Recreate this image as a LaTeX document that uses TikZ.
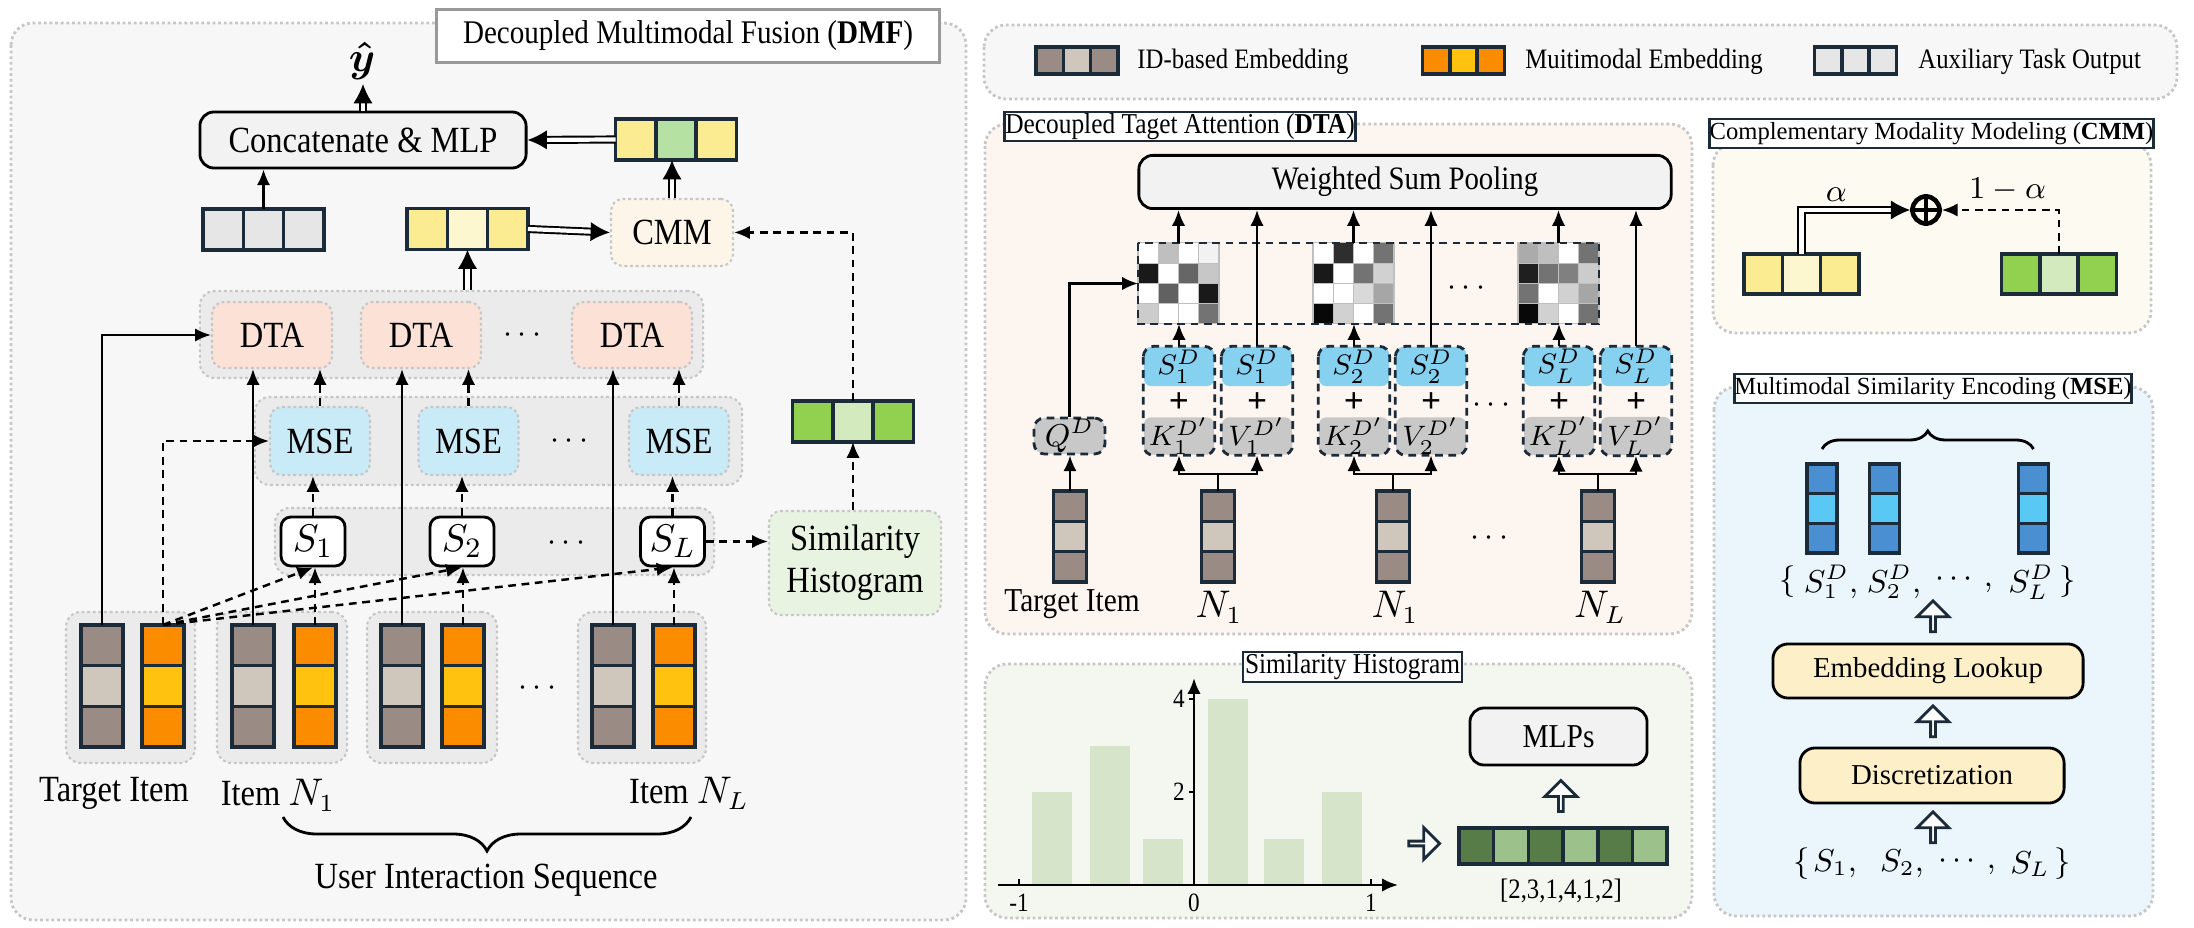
\documentclass[tikz,border=0pt]{standalone}
\usepackage{amsmath}
\usepackage{fontspec}
\setmainfont{Liberation Serif}
\newfontfamily\condfont[FakeStretch=0.88]{Liberation Serif}
\usetikzlibrary{arrows.meta,shapes.arrows,calc,decorations.pathreplacing}

\definecolor{navy}{HTML}{1C2B3A}
\definecolor{idDark}{HTML}{9A8C84}
\definecolor{idLight}{HTML}{CFC7BB}
\definecolor{mmOrange}{HTML}{FB8C00}
\definecolor{mmYellow}{HTML}{FFC20E}
\definecolor{auxGray}{HTML}{E6E6E6}
\definecolor{cmmYellow}{HTML}{FCEC91}
\definecolor{cmmLight}{HTML}{FDF7D0}
\definecolor{midGreen}{HTML}{B5E2A3}
\definecolor{simGreen}{HTML}{92D050}
\definecolor{simLight}{HTML}{D3EABF}
\definecolor{panelGray}{HTML}{F7F7F7}
\definecolor{groupGray}{HTML}{EBEBEB}
\definecolor{dtaFill}{HTML}{FBE1D6}
\definecolor{mseFill}{HTML}{C9EAF7}
\definecolor{cmmFill}{HTML}{FDF6E8}
\definecolor{shFill}{HTML}{E9F3E1}
\definecolor{dtaPanel}{HTML}{FDF5F0}
\definecolor{cmmPanel}{HTML}{FDFAF2}
\definecolor{msePanel}{HTML}{EAF5FC}
\definecolor{shPanel}{HTML}{F4F7EF}
\definecolor{skyCell}{HTML}{86D0F0}
\definecolor{kvGray}{HTML}{C8C8C8}
\definecolor{encDark}{HTML}{4A8FD2}
\definecolor{encLight}{HTML}{5AC8F5}
\definecolor{barGreen}{HTML}{D6E4C9}
\definecolor{histDark}{HTML}{587C47}
\definecolor{histLight}{HTML}{9DC18A}
\definecolor{boxGray}{HTML}{F2F2F2}
\definecolor{lookupFill}{HTML}{FDF0C8}

%%% three cells side by side / on top of each other
\newcommand{\HVec}[6][]{%
  \node[CellStyle,#1,fill=#5] (#2) at (#3) {};
  \node[CellStyle,#1,fill=#4,anchor=east] (#2-l) at (#2.west) {};
  \node[CellStyle,#1,fill=#6,anchor=west] (#2-r) at (#2.east) {};
}
\newcommand{\VVec}[6][]{%
  \node[CellStyle,#1,fill=#5] (#2) at (#3) {};
  \node[CellStyle,#1,fill=#4,anchor=south] (#2-t) at (#2.north) {};
  \node[CellStyle,#1,fill=#6,anchor=north] (#2-b) at (#2.south) {};
}
%%% one key or value column of the DTA block
\newcommand{\DTAcol}[4]{%
  \node[SCellStyle] (#1-s) at (#2,366.5) {#3};
  \node[KCellStyle] (#1-k) at (#2,436) {#4};
  \node[PlusStyle] (#1-p) at (#2,403) {+};
  \draw[ColStyle] (#1-s.north west) rectangle (#1-k.south east);
}
%%% 4x4 attention map
\newcommand{\HeatMap}[3]{%
  \node[inner sep=0pt, outer sep=0pt, minimum size=0.81cm] (#1) at (#2) {};
  \foreach \hmv [count=\hmk from 0] in {#3} {
    \pgfmathtruncatemacro\hmrow{\hmk/4}
    \pgfmathtruncatemacro\hmcol{\hmk-4*\hmrow}
    \filldraw[fill=black!\hmv, draw=black!25, line width=0.3pt]
      ($(#1.north west)+(\hmcol*20.25,\hmrow*20.25)$) rectangle ++(20.25,20.25);
  }
}

\begin{document}
\begin{tikzpicture}[x=0.01cm,y=-0.01cm]

\tikzset{
  PanelStyle/.style = {draw=black!22, line width=0.8pt, dash pattern=on 0.8pt off 0.8pt, rounded corners=0.22cm},
  GroupStyle/.style = {fill=groupGray, draw=black!22, line width=0.6pt, dash pattern=on 0.8pt off 0.8pt, rounded corners=0.15cm},
  TitleStyle/.style = {draw=navy, line width=0.8pt, fill=white, inner sep=0pt},
  CellStyle/.style  = {draw=navy, line width=1pt, outer sep=0pt, inner sep=0pt},
  BoxStyle/.style   = {draw=black, line width=0.8pt, fill=boxGray, rounded corners=0.14cm},
  SoftBox/.style    = {draw=black!22, line width=0.6pt, dash pattern=on 0.8pt off 0.8pt, rounded corners=0.12cm,
                       font=\condfont\fontsize{10.5}{12}\selectfont},
  SNode/.style      = {draw=black, line width=0.8pt, fill=white, rounded corners=0.1cm,
                       minimum width=0.64cm, minimum height=0.49cm, inner sep=0pt, font=\fontsize{11}{12}\selectfont},
  CondText/.style   = {font=\condfont\fontsize{10.5}{12}\selectfont},
  LegText/.style    = {anchor=west, font=\condfont\fontsize{8}{10}\selectfont},
  DotsStyle/.style  = {font=\fontsize{9}{10}\selectfont},
  SCellStyle/.style = {fill=skyCell, rounded corners=2pt, minimum width=0.70cm, minimum height=0.39cm,
                       inner sep=0pt, font=\fontsize{8.5}{10}\selectfont},
  KCellStyle/.style = {fill=kvGray, rounded corners=2pt, minimum width=0.70cm, minimum height=0.37cm,
                       inner sep=0pt, font=\fontsize{8.5}{10}\selectfont},
  PlusStyle/.style  = {inner sep=0pt, font=\bfseries\fontsize{10}{12}\selectfont},
  ColStyle/.style   = {draw=navy, line width=0.8pt, dash pattern=on 2.2pt off 1.6pt, rounded corners=3pt},
  BarSize/.style    = {minimum width=0.42cm, minimum height=0.407cm},
  LegSize/.style    = {minimum width=0.273cm, minimum height=0.27cm},
  VecSize/.style    = {minimum width=0.403cm, minimum height=0.41cm},
  CmmSize/.style    = {minimum width=0.383cm, minimum height=0.40cm},
  DtaBar/.style     = {minimum width=0.33cm, minimum height=0.303cm},
  EncBar/.style     = {minimum width=0.30cm, minimum height=0.297cm},
  ArrowStyle/.style = {line width=0.7pt, -{Latex[length=4.5pt,width=3.8pt]}},
  DashArrow/.style  = {ArrowStyle, dash pattern=on 2.2pt off 1.6pt},
  DoubleArrow/.style= {double, double distance=1.2pt, line width=0.55pt, -{Latex[length=5.5pt,width=5.5pt]}},
  HollowArrow/.style= {single arrow, draw=navy, fill=white, line width=0.8pt, inner sep=0pt,
                       minimum height=0.31cm, minimum width=0.32cm, single arrow head extend=0.08cm},
  LookupStyle/.style= {draw=black, line width=0.8pt, fill=lookupFill, rounded corners=0.15cm,
                       font=\fontsize{8.2}{10}\selectfont},
  MathLbl/.style    = {inner sep=0pt, font=\fontsize{9}{11}\selectfont},
  TickText/.style   = {inner sep=1pt, font=\condfont\fontsize{7.5}{9}\selectfont}
}

\useasboundingbox (0,0) rectangle (2194,928);

%%% panels
\draw[PanelStyle, fill=panelGray] (11,23) rectangle (966,920);
\draw[PanelStyle, fill=panelGray] (984,25) rectangle (2177,99);
\draw[PanelStyle, fill=dtaPanel] (985,124) rectangle (1692,634);
\draw[PanelStyle, fill=shPanel] (985,664) rectangle (1692,918);
\draw[PanelStyle, fill=cmmPanel] (1713,143) rectangle (2151,333);
\draw[PanelStyle, fill=msePanel] (1714,387) rectangle (2153,916);

\node[draw=black!40, line width=1pt, fill=white, minimum width=5.03cm, minimum height=0.51cm,
      font=\condfont\fontsize{9.4}{11}\selectfont] (DMFTitle) at (688,36) {Decoupled Multimodal Fusion (\textbf{DMF})};

%%% legend
\HVec[LegSize]{LegID}{1077,60.5}{idDark}{idLight}{idDark}
\node[LegText] (LegIDtxt) at (1125,62) {ID-based Embedding};
\HVec[LegSize]{LegMM}{1463.5,60.5}{mmOrange}{mmYellow}{mmOrange}
\node[LegText] (LegMMtxt) at (1513,62) {Muitimodal Embedding};
\HVec[LegSize]{LegAux}{1855.5,60.5}{auxGray}{auxGray}{auxGray}
\node[LegText] (LegAuxtxt) at (1906,62) {Auxiliary Task Output};

%%% DMF: groups
\node[GroupStyle, minimum width=5.03cm, minimum height=0.87cm] (DTAgrp) at (451.5,334.5) {};
\node[GroupStyle, minimum width=4.87cm, minimum height=0.88cm] (MSEgrp) at (498.5,441) {};
\node[GroupStyle, minimum width=4.39cm, minimum height=0.67cm] (Sgrp) at (494.5,541.5) {};
\node[GroupStyle, minimum width=1.29cm, minimum height=1.51cm] (TgtGrp) at (130.5,687.5) {};
\node[GroupStyle, minimum width=1.30cm, minimum height=1.51cm] (N1Grp) at (282,687.5) {};
\node[GroupStyle, minimum width=1.30cm, minimum height=1.51cm] (N2Grp) at (432,687.5) {};
\node[GroupStyle, minimum width=1.28cm, minimum height=1.51cm] (NLGrp) at (642,687.5) {};

%%% DMF: nodes
\node[inner sep=1pt, font=\fontsize{13}{14}\selectfont] (yhat) at (362,61) {$\boldsymbol{\hat{y}}$};
\node[BoxStyle, minimum width=3.26cm, minimum height=0.56cm,
      font=\condfont\fontsize{10.5}{12}\selectfont] (Concat) at (363,140) {Concatenate \& MLP};
\HVec[VecSize]{TopVec}{676,139.5}{cmmYellow}{midGreen}{cmmYellow}
\HVec[VecSize]{AuxVec}{263.5,229.5}{auxGray}{auxGray}{auxGray}
\HVec[VecSize]{YelVec}{467.5,229}{cmmYellow}{cmmLight}{cmmYellow}
\node[SoftBox, fill=cmmFill, minimum width=1.22cm, minimum height=0.67cm] (CMM) at (672,232.5) {CMM};

\node[SoftBox, fill=dtaFill, minimum width=1.2cm, minimum height=0.66cm] (DTA1) at (272,335) {DTA};
\node[SoftBox, fill=dtaFill, minimum width=1.2cm, minimum height=0.66cm] (DTA2) at (421,335) {DTA};
\node[SoftBox, fill=dtaFill, minimum width=1.2cm, minimum height=0.66cm] (DTA3) at (632,335) {DTA};
\node[DotsStyle] (DTAdots) at (525,335) {$\cdots$};

\node[SoftBox, fill=mseFill, minimum width=1.0cm, minimum height=0.68cm] (MSE1) at (320,441) {MSE};
\node[SoftBox, fill=mseFill, minimum width=1.0cm, minimum height=0.68cm] (MSE2) at (468.5,441) {MSE};
\node[SoftBox, fill=mseFill, minimum width=1.0cm, minimum height=0.68cm] (MSE3) at (679,441) {MSE};
\node[DotsStyle] (MSEdots) at (572,441) {$\cdots$};
\HVec[VecSize]{GreenVec}{853,421.5}{simGreen}{simLight}{simGreen}

\node[SNode] (S1) at (313,541.5) {$S_1$};
\node[SNode] (S2) at (462,541.5) {$S_2$};
\node[SNode] (SL) at (672.5,541.5) {$S_L$};
\node[DotsStyle] (Sdots) at (569,543) {$\cdots$};
\node[SoftBox, fill=shFill, minimum width=1.72cm, minimum height=1.04cm, align=center] (SimHist) at (855,563)
  {Similarity\\Histogram};

\VVec[BarSize]{TgtID}{102,686}{idDark}{idLight}{idDark}
\VVec[BarSize]{TgtMM}{163,686}{mmOrange}{mmYellow}{mmOrange}
\VVec[BarSize]{N1ID}{253,686}{idDark}{idLight}{idDark}
\VVec[BarSize]{N1MM}{315,686}{mmOrange}{mmYellow}{mmOrange}
\VVec[BarSize]{N2ID}{402,686}{idDark}{idLight}{idDark}
\VVec[BarSize]{N2MM}{463,686}{mmOrange}{mmYellow}{mmOrange}
\VVec[BarSize]{NLID}{613,686}{idDark}{idLight}{idDark}
\VVec[BarSize]{NLMM}{674,686}{mmOrange}{mmYellow}{mmOrange}
\node[DotsStyle] (Itemdots) at (540,688) {$\cdots$};

\node[CondText] (TgtLbl) at (114,793) {Target Item};
\node[CondText] (N1Lbl) at (278,795) {Item $N_1$};
\node[CondText] (NLLbl) at (689,793) {Item $N_L$};
\coordinate (BrL) at (283,817);
\coordinate (BrR) at (691,817);
\draw[line width=0.8pt, decorate, decoration={brace, amplitude=0.34cm, mirror}] (BrL) -- (BrR);
\node[CondText] (SeqLbl) at (486,880) {User Interaction Sequence};

%%% DMF: connectors
\draw[DoubleArrow] (Concat.north) -- (Concat.north |- yhat.south);
\draw[DoubleArrow] (TopVec-l.west) -- (Concat.east);
\draw[ArrowStyle] (AuxVec.north) -- (AuxVec.north |- Concat.south);
\draw[DoubleArrow] (YelVec-r.east) -- (CMM.west);
\draw[DoubleArrow] (CMM.north) -- (CMM.north |- TopVec.south);
\draw[DashArrow] (GreenVec.north) |- (CMM.east);
\draw[DoubleArrow] (YelVec.south |- DTAgrp.north) -- (YelVec.south);

\draw[ArrowStyle] (TgtID-t.north) |- (DTA1.west);
\draw[DashArrow] (TgtMM-t.north) |- (MSE1.west);
\draw[DashArrow] (TgtMM-t.north) -- (S1.south);
\draw[DashArrow] (TgtMM-t.north) -- (S2.south);
\draw[DashArrow] (TgtMM-t.north) -- (SL.south);

\draw[ArrowStyle] (N1ID-t.north) -- (N1ID-t.north |- DTA1.south);
\draw[ArrowStyle] (N2ID-t.north) -- (N2ID-t.north |- DTA2.south);
\draw[ArrowStyle] (NLID-t.north) -- (NLID-t.north |- DTA3.south);
\draw[DashArrow] (N1MM-t.north) -- (N1MM-t.north |- S1.south);
\draw[DashArrow] (N2MM-t.north) -- (N2MM-t.north |- S2.south);
\draw[DashArrow] (NLMM-t.north) -- (NLMM-t.north |- SL.south);
\draw[DashArrow] (S1.north) -- (S1.north |- MSE1.south);
\draw[DashArrow] (S2.north) -- (S2.north |- MSE2.south);
\draw[DashArrow] (SL.north) -- (SL.north |- MSE3.south);
\draw[DashArrow] (MSE1.north) -- (MSE1.north |- DTA1.south);
\draw[DashArrow] (MSE2.north) -- (MSE2.north |- DTA2.south);
\draw[DashArrow] (MSE3.north) -- (MSE3.north |- DTA3.south);
\draw[DashArrow] (SL.east) -- (SimHist.west |- SL.east);
\draw[DashArrow] (GreenVec.south |- SimHist.north) -- (GreenVec.south);

%%% DTA block
\node[TitleStyle, anchor=west, minimum width=3.51cm, minimum height=0.29cm,
      font=\condfont\fontsize{8.2}{10}\selectfont] (DTATitle) at (1003,126.5) {Decoupled Taget Attention (\textbf{DTA})};
\node[BoxStyle, minimum width=5.32cm, minimum height=0.48cm,
      font=\condfont\fontsize{9.3}{11}\selectfont] (WSP) at (1405,182) {Weighted Sum Pooling};

\HeatMap{HM1}{1178.5,283.5}{0,25,0,5,90,0,60,22,0,62,0,90,20,0,0,55}
\HeatMap{HM2}{1353.5,283.5}{0,82,0,55,90,0,55,18,0,0,15,35,97,18,0,55}
\HeatMap{HM3}{1558.5,283.5}{33,25,0,55,88,55,50,20,55,0,18,35,97,18,0,55}
\draw[ColStyle, rounded corners=0pt] (HM1.north west) rectangle (HM3.south east);
\node[DotsStyle] (HMdots) at (1469,288) {$\cdots$};

\DTAcol{C1K}{1179}{$S_1^D$}{$K_1^{D'}$}
\DTAcol{C1V}{1257}{$S_1^D$}{$V_1^{D'}$}
\DTAcol{C2K}{1354}{$S_2^D$}{$K_2^{D'}$}
\DTAcol{C2V}{1431}{$S_2^D$}{$V_2^{D'}$}
\DTAcol{CLK}{1559}{$S_L^D$}{$K_L^{D'}$}
\DTAcol{CLV}{1636}{$S_L^D$}{$V_L^{D'}$}
\node[DotsStyle] (KVdots) at (1494,405) {$\cdots$};

\node[fill=kvGray, draw=navy, line width=0.8pt, dash pattern=on 2.2pt off 1.6pt, rounded corners=3pt,
      minimum width=0.71cm, minimum height=0.36cm, inner sep=0pt, font=\fontsize{9}{11}\selectfont] (QD) at (1069.5,436) {$Q^D$};

\VVec[DtaBar]{TBar}{1070,536.5}{idDark}{idLight}{idDark}
\VVec[DtaBar]{NBar1}{1218,536.5}{idDark}{idLight}{idDark}
\VVec[DtaBar]{NBar2}{1393,536.5}{idDark}{idLight}{idDark}
\VVec[DtaBar]{NBarL}{1598,536.5}{idDark}{idLight}{idDark}
\node[DotsStyle] (NBardots) at (1492,538) {$\cdots$};
\node[font=\condfont\fontsize{9.5}{11}\selectfont] (TBarLbl) at (1072,604) {Target Item};
\node[MathLbl, font=\fontsize{10.5}{12}\selectfont] (NBar1Lbl) at (1219,607) {$N_1$};
\node[MathLbl, font=\fontsize{10.5}{12}\selectfont] (NBar2Lbl) at (1395,607) {$N_1$};
\node[MathLbl, font=\fontsize{10.5}{12}\selectfont] (NBarLLbl) at (1600,607) {$N_L$};

\draw[ArrowStyle] (TBar-t.north) -- (TBar-t.north |- QD.south);
\draw[ArrowStyle] (QD.north) |- (HM1.west);
\draw (NBar1-t.north) -- ++(0,-17) coordinate (F1);
\draw[ArrowStyle] (F1) -| (C1K-k.south);
\draw[ArrowStyle] (F1) -| (C1V-k.south);
\draw (NBar2-t.north) -- ++(0,-17) coordinate (F2);
\draw[ArrowStyle] (F2) -| (C2K-k.south);
\draw[ArrowStyle] (F2) -| (C2V-k.south);
\draw (NBarL-t.north) -- ++(0,-17) coordinate (FL);
\draw[ArrowStyle] (FL) -| (CLK-k.south);
\draw[ArrowStyle] (FL) -| (CLV-k.south);

\draw[ArrowStyle] (C1K-s.north) -- (C1K-s.north |- HM1.south);
\draw[ArrowStyle] (C2K-s.north) -- (C2K-s.north |- HM2.south);
\draw[ArrowStyle] (CLK-s.north) -- (CLK-s.north |- HM3.south);
\draw[ArrowStyle] (HM1.north) -- (HM1.north |- WSP.south);
\draw[ArrowStyle] (HM2.north) -- (HM2.north |- WSP.south);
\draw[ArrowStyle] (HM3.north) -- (HM3.north |- WSP.south);
\draw[ArrowStyle] (C1V-s.north) -- (C1V-s.north |- WSP.south);
\draw[ArrowStyle] (C2V-s.north) -- (C2V-s.north |- WSP.south);
\draw[ArrowStyle] (CLV-s.north) -- (CLV-s.north |- WSP.south);

%%% similarity histogram block
\node[TitleStyle, minimum width=2.19cm, minimum height=0.30cm,
      font=\condfont\fontsize{8.2}{10}\selectfont] (SHTitle) at (1352.5,667) {Similarity Histogram};
\foreach \xl/\h in {1032/2,1090/3,1143/1,1208/4,1264/1,1322/2}
  \fill[barGreen] (\xl,885) rectangle ++(40,-46.5*\h);
\draw[ArrowStyle, line width=0.8pt] (998,885) -- (1398,885);
\draw[ArrowStyle, line width=0.8pt] (1194,885) -- (1194,678);
\foreach \tx/\tn/\tl in {1019/a/-1,1194/b/0,1371/c/1} {
  \draw[line width=0.7pt] (\tx,885) -- (\tx,879);
  \node[TickText] (XT\tn) at (\tx,903) {\tl};
}
\foreach \ty/\tl in {699/4,792/2} {
  \draw[line width=0.7pt] (1194,\ty) -- (1189,\ty);
  \node[TickText, anchor=east] (YT\tl) at (1189,\ty) {\tl};
}
\node[HollowArrow] (HistArr) at (1423,843.5) {};
\foreach \i/\c in {1/histDark,2/histLight,3/histDark,4/histLight,5/histDark,6/histLight}
  \node[CellStyle, fill=\c, minimum width=0.347cm, minimum height=0.36cm] (HV-\i) at (1459+34.7*\i-17.35,846) {};
\node[font=\condfont\fontsize{8}{10}\selectfont] (HVLbl) at (1561,891) {[2,3,1,4,1,2]};
\node[BoxStyle, minimum width=1.77cm, minimum height=0.57cm,
      font=\condfont\fontsize{9.5}{11}\selectfont] (MLPs) at (1558.5,736.5) {MLPs};
\node[HollowArrow, rotate=90] (MLPArr) at ($(MLPs.south)!0.5!(HV-3.north east)$) {};

%%% CMM block
\node[TitleStyle, minimum width=4.29cm, minimum height=0.29cm,
      font=\fontsize{7}{9}\selectfont] (CMMTitle) at (1931.5,133.5) {Complementary Modality Modeling (\textbf{CMM})};
\HVec[CmmSize]{CmmYel}{1801.5,274}{cmmYellow}{cmmLight}{cmmYellow}
\HVec[CmmSize]{CmmGrn}{2059,274}{simGreen}{simLight}{simGreen}
\node[draw, circle, line width=1.3pt, minimum size=0.27cm, inner sep=0pt] (Oplus) at (1926,210) {};
\draw[line width=1.3pt] (Oplus.north) -- (Oplus.south) (Oplus.west) -- (Oplus.east);
\draw[DoubleArrow] (CmmYel.north) |- (Oplus.west) node[MathLbl, pos=0.66, above=2pt] {$\alpha$};
\draw[DashArrow] (CmmGrn.north) |- (Oplus.east) node[MathLbl, pos=0.72, above=2pt] {$1-\alpha$};

%%% MSE block
\node[TitleStyle, minimum width=3.80cm, minimum height=0.29cm,
      font=\fontsize{7}{9}\selectfont] (MSETitle) at (1933,388.5) {Multimodal Similarity Encoding (\textbf{MSE})};
\VVec[EncBar]{Enc1}{1822,508.5}{encDark}{encLight}{encDark}
\VVec[EncBar]{Enc2}{1884.5,508.5}{encDark}{encLight}{encDark}
\VVec[EncBar]{EncL}{2033.5,508.5}{encDark}{encLight}{encDark}
\draw[line width=0.8pt, decorate, decoration={brace, amplitude=0.18cm}] (Enc1-t.north |- 0,449) -- (EncL-t.north |- 0,449);

\node[MathLbl] (SDo) at (1788,582) {$\{$};
\node[MathLbl] (SD1) at (1831,582) {$S_1^D,$};
\node[MathLbl] (SD2) at (1894,582) {$S_2^D,$};
\node[MathLbl] (SDd) at (1964,582) {$\cdots,$};
\node[MathLbl] (SDL) at (2031,582) {$S_L^D$};
\node[MathLbl] (SDc) at (2068,582) {$\}$};

\node[LookupStyle, minimum width=3.10cm, minimum height=0.54cm] (EmbLk) at (1928,671) {Embedding Lookup};
\node[LookupStyle, minimum width=2.64cm, minimum height=0.55cm] (Disc) at (1932,775.5) {Discretization};

\node[MathLbl] (So) at (1802,864) {$\{$};
\node[MathLbl] (Sv1) at (1835,864) {$S_1,$};
\node[MathLbl] (Sv2) at (1902,864) {$S_2,$};
\node[MathLbl] (Svd) at (1967,864) {$\cdots,$};
\node[MathLbl] (SvL) at (2030,864) {$S_L$};
\node[MathLbl] (Sc) at (2063,864) {$\}$};

\node[HollowArrow, rotate=90] (ArrA) at (1933,617.5) {};
\node[HollowArrow, rotate=90] (ArrB) at (1933,722.5) {};
\node[HollowArrow, rotate=90] (ArrC) at (1933,828.5) {};

\end{tikzpicture}
\end{document}
